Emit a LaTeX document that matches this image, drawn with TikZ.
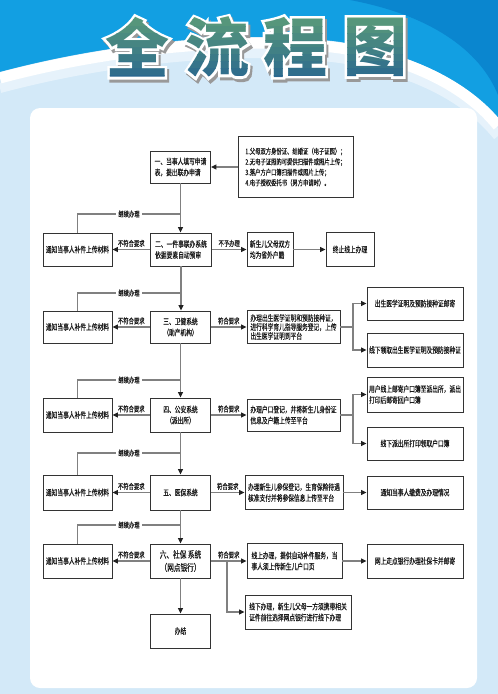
\documentclass[tikz,border=0pt]{standalone}
\usepackage{fontspec}
\newfontfamily\cjk{Noto Sans CJK SC}
\newfontfamily\cjkout[BoldFeatures={FakeBold=8}]{Noto Sans CJK SC}
\newfontfamily\cjkc[FakeStretch=0.7,FakeBold=0.35]{Noto Sans CJK SC}
\usetikzlibrary{arrows.meta}
\definecolor{bgl}{HTML}{D3E9F8}
\definecolor{topb}{HTML}{129FE2}
\definecolor{topd}{HTML}{0A86CF}
\definecolor{ttop}{HTML}{5C9C78}
\definecolor{tbot}{HTML}{2A688F}
\definecolor{boxc}{HTML}{333333}
\definecolor{linec}{HTML}{808080}
\definecolor{arrc}{HTML}{222222}
\definecolor{txt}{HTML}{1A1A1A}
\newcommand\bt{\cjkc\fontsize{8.2}{11}\selectfont}
\newcommand\btbig{\cjkc\fontsize{9.5}{13}\selectfont}
\newcommand\docfont{\cjkc\fontsize{7.6}{10.5}\selectfont}
\newcommand\titlefont{\cjk\bfseries\fontsize{64}{64}\selectfont}
\newcommand\titleoutfont{\cjkout\bfseries\fontsize{64}{64}\selectfont}
\newcommand\TitleRow[2]{%
  \node[text=#1,font=#2] at (137,47) {全};
  \node[text=#1,font=#2] at (217,47) {流};
  \node[text=#1,font=#2] at (295,47) {程};
  \node[text=#1,font=#2] at (375,47) {图};}
\tikzset{
  box/.style={draw=boxc, line width=0.9pt, fill=white, inner sep=2pt, text=txt, font=\bt, align=left},
  cbox/.style={box, align=center},
  conn/.style={draw=linec, line width=1.1pt},
  flow/.style={conn, -{Triangle[length=5.5pt,width=5pt,color=arrc]}},
  lab/.style={font=\cjkc\fontsize{7.6}{8}\selectfont, text=txt, inner sep=1pt},
}
\begin{document}
\begin{tikzpicture}[x=1pt,y=-1pt]
\useasboundingbox (0,0) rectangle (498,694);
% ---------- background ----------
\fill[bgl] (0,0) rectangle (498,694);
\fill[topb] (0,0) rectangle (498,160);
\fill[topd] (350,0) .. controls (430,15) and (480,50) .. (498,95) -- (498,0) -- cycle;
\fill[bgl] (0,72) .. controls (120,40) and (250,30) .. (340,42) .. controls (420,55) and (470,85) .. (498,120) -- (498,694) -- (0,694) -- cycle;
\draw[white, line width=11pt, yshift=-6pt] (0,72) .. controls (120,40) and (250,30) .. (340,42) .. controls (420,55) and (470,85) .. (498,120);
\draw[white, opacity=0.45, line width=10pt, yshift=-16pt] (0,72) .. controls (120,40) and (250,30) .. (340,42) .. controls (420,55) and (470,85) .. (498,120);
\fill[white, rounded corners=10pt] (30,108) rectangle (477,688);
% ---------- title ----------
\begin{scope}[xshift=2pt, yshift=-3pt]
  \TitleRow{black!40}{\titleoutfont}
\end{scope}
\TitleRow{white}{\titleoutfont}
\foreach \i in {0,...,9}{
  \pgfmathtruncatemacro\p{\i*100/9}
  \begin{scope}
    \clip (90,{12+\i*7}) rectangle (420,{12+\i*7+7.4});
    \colorlet{tcur}{tbot!\p!ttop}
    \TitleRow{tcur}{\titlefont}
  \end{scope}}
% ---------- boxes ----------
\node[box, minimum width=60pt, minimum height=32pt] (A) at (180.5,167) {一、当事人填写申请\\表，提出联办申请};
\node[box, font=\docfont, minimum width=115pt, minimum height=61pt] (docs) at (295.5,167) {1.父母双方身份证、结婚证（电子证照）；\\2.无电子证照的可提供扫描件或照片上传；\\3.落户方户口簿扫描件或照片上传；\\4.电子授权委托书（男方申请时）。};
% row 2
\node[box, minimum width=61pt, minimum height=33pt] (R2) at (181,249.5) {二、一件事联办系统\\依据要素自动预审};
\node[cbox, minimum width=69pt, minimum height=33pt] (L2) at (77.5,249.5) {通知当事人补件上传材料};
\node[box, minimum width=46pt, minimum height=34pt] (C) at (270,249.5) {新生儿父母双方\\均为省外户籍};
\node[cbox, minimum width=48pt, minimum height=34pt] (D) at (350,249.5) {终止线上办理};
% row 3
\node[cbox, minimum width=60pt, minimum height=32pt] (R3) at (180.5,327) {三、卫健系统\\（助产机构）};
\node[cbox, minimum width=69pt, minimum height=32pt] (L3) at (77.5,327) {通知当事人补件上传材料};
\node[box, minimum width=93pt, minimum height=33pt, inner sep=1.5pt] (E) at (293.5,327) {办理出生医学证明和预防接种证，\\[-2pt]进行科学育儿指导服务登记，上传\\[-2pt]出生医学证明到平台};
\node[cbox, minimum width=96pt, minimum height=33pt] (F) at (415,303.5) {出生医学证明及预防接种证邮寄};
\node[cbox, minimum width=96pt, minimum height=34pt] (G) at (415,350) {线下领取出生医学证明及预防接种证};
% row 4
\node[cbox, minimum width=60pt, minimum height=34pt] (R4) at (180.5,415) {四、公安系统\\（派出所）};
\node[cbox, minimum width=69pt, minimum height=34pt] (L4) at (77.5,415) {通知当事人补件上传材料};
\node[box, minimum width=93pt, minimum height=32pt] (H) at (293.5,415) {办理户口登记，并将新生儿身份证\\信息及户籍上传至平台};
\node[box, minimum width=96pt, minimum height=35pt] (I) at (415,394.5) {用户线上邮寄户口簿至派出所，派出\\打印后邮寄回户口簿};
\node[cbox, minimum width=96pt, minimum height=33pt] (J) at (415,443.5) {线下派出所打印领取户口簿};
% row 5
\node[cbox, minimum width=60pt, minimum height=35pt] (R5) at (180.5,492.5) {五、医保系统};
\node[cbox, minimum width=69pt, minimum height=35pt] (L5) at (77.5,492.5) {通知当事人补件上传材料};
\node[box, minimum width=98pt, minimum height=34pt] (K) at (294,492.5) {办理新生儿参保登记，生育保险待遇\\核准支付并将参保信息上传至平台};
\node[cbox, minimum width=96pt, minimum height=33pt] (Lb) at (415,492.5) {通知当事人缴费及办理情况};
% row 6
\node[cbox, font=\btbig, minimum width=60pt, minimum height=34pt] (R6) at (180.5,561) {六、社保 系统\\（网点银行）};
\node[cbox, minimum width=69pt, minimum height=34pt] (L6) at (77.5,561) {通知当事人补件上传材料};
\node[box, minimum width=95pt, minimum height=35pt] (M) at (294.5,561) {线上办理，提供自动补件服务，当\\事人须上传新生儿户口页};
\node[cbox, minimum width=96pt, minimum height=34pt] (N) at (415,561) {网上走点银行办理社保卡并邮寄};
\node[box, minimum width=106pt, minimum height=34pt] (O) at (298,612) {线下办理，新生儿父母一方须携带相关\\证件前往选择网点银行进行线下办理};
\node[cbox, minimum width=60pt, minimum height=34pt] (End) at (180.5,631) {办结};
% ---------- connectors ----------
\draw[flow] (docs.west) -- (A.east);
\draw[flow] (A.south) -- (A.south |- R2.north);
\draw[flow] (R2.south) -- (R2.south |- R3.north);
\draw[flow] (R3.south) -- (R3.south |- R4.north);
\draw[flow] (R4.south) -- (R4.south |- R5.north);
\draw[flow] (R5.south) -- (R5.south |- R6.north);
\draw[flow] (R6.south) -- (R6.south |- End.north);
% loops back
\coordinate (j2) at (180.5,214);
\coordinate (j3) at (180.5,293);
\coordinate (j4) at (180.5,380);
\coordinate (j5) at (180.5,453);
\coordinate (j6) at (180.5,525);
\foreach \k in {2,...,6}{
  \draw[conn] (L\k.north) |- (j\k);
  \path (L\k.north |- j\k) -- (j\k) node[midway, lab, fill=white, inner sep=2pt] {继续办理};
  \draw[flow] (R\k.west) -- (L\k.east) node[midway, above, lab, yshift=1pt] {不符合要求};
}
\draw[flow] (R2.east) -- (C.west) node[midway, above, lab, yshift=1pt] {不予办理};
\draw[flow] (C.east) -- (D.west);
\draw[flow] (R3.east) -- (E.west) node[midway, above, lab, yshift=1pt] {符合要求};
\draw[flow] (R4.east) -- (H.west) node[midway, above, lab, yshift=1pt] {符合要求};
\draw[flow] (R5.east) -- (K.west) node[midway, above, lab, yshift=1pt] {符合要求};
\draw[flow] (R6.east) -- (M.west) node[midway, above, lab, yshift=1pt] {符合要求};
\coordinate (b3) at (353,327);
\coordinate (b4) at (353,415);
\coordinate (b6) at (227,561);
\draw[conn] (E.east) -- (b3);
\draw[flow] (b3) |- (F.west);
\draw[flow] (b3) |- (G.west);
\draw[conn] (H.east) -- (b4);
\draw[flow] (b4) |- (I.west);
\draw[flow] (b4) |- (J.west);
\draw[flow] (K.east) -- (Lb.west);
\draw[flow] (M.east) -- (N.west);
\draw[flow] (b6) |- (O.west);
\end{tikzpicture}
\end{document}
